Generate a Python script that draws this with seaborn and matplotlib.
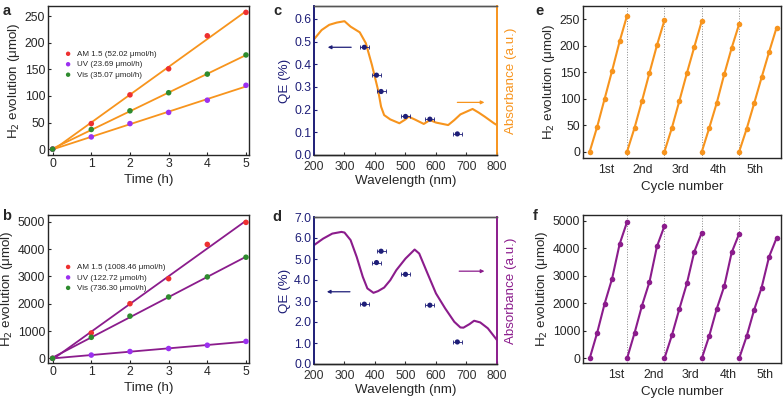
import numpy as np
import pandas as pd
import matplotlib
matplotlib.use('Agg')
import matplotlib.pyplot as plt
import seaborn as sns

sns.set_style('ticks')
plt.rcParams['font.family'] = ['Liberation Sans', 'DejaVu Sans']
plt.rcParams['axes.linewidth'] = 1.0

# --- data ---
time_h = [0, 1, 2, 3, 4, 5]
series_names = ['AM 1.5', 'UV', 'Vis']

a_am15 = [0, 48, 102, 151, 213, 257]
a_uv = [0, 23, 48, 69, 92, 120]
a_vis = [0, 37, 72, 106, 141, 177]
a_labels = ['AM 1.5 (52.02 μmol/h)', 'UV (23.69 μmol/h)', 'Vis (35.07 μmol/h)']

b_am15 = [0, 930, 2000, 2915, 4170, 4975]
b_uv = [0, 120, 250, 360, 480, 620]
b_vis = [0, 770, 1545, 2245, 2980, 3700]
b_labels = ['AM 1.5 (1008.46 μmol/h)', 'UV (122.72 μmol/h)', 'Vis (736.30 μmol/h)']

qe_wl = [365, 405, 420, 500, 580, 670]
qe_c = [0.475, 0.352, 0.280, 0.170, 0.158, 0.093]
qe_d = [2.85, 4.83, 5.37, 4.27, 2.80, 1.05]
qe_wl_err = 15

abs_wl_c = [200, 225, 250, 275, 300, 320, 350, 370, 390, 410, 420, 430, 450, 480, 500,
            510, 530, 560, 580, 600, 640, 660, 680, 700, 720, 740, 760, 790, 800]
abs_c = [0.510, 0.551, 0.574, 0.584, 0.590, 0.566, 0.541, 0.493, 0.397, 0.287, 0.213, 0.176,
         0.157, 0.140, 0.157, 0.169, 0.157, 0.137, 0.154, 0.143, 0.132, 0.154, 0.179, 0.191,
         0.203, 0.187, 0.169, 0.140, 0.132]

abs_wl_d = [200, 230, 260, 290, 300, 320, 340, 360, 375, 395, 410, 430, 450, 470, 500, 530,
            545, 570, 600, 630, 660, 680, 690, 710, 725, 745, 770, 800]
abs_d = [5.66, 5.97, 6.21, 6.29, 6.26, 5.90, 5.10, 4.15, 3.60, 3.39, 3.47, 3.64, 3.99, 4.47,
         5.02, 5.45, 5.26, 4.39, 3.36, 2.65, 2.01, 1.74, 1.73, 1.90, 2.06, 1.98, 1.70, 1.14]

cycle_labels = ['1st', '2nd', '3rd', '4th', '5th']
e_cycles = [[0, 47, 100, 153, 208, 257],
            [0, 45, 96, 149, 201, 248],
            [0, 45, 96, 148, 198, 247],
            [0, 45, 92, 146, 196, 241],
            [0, 43, 91, 140, 188, 234]]
f_cycles = [[0, 930, 1990, 2900, 4150, 4960],
            [0, 920, 1920, 2780, 4070, 4810],
            [0, 840, 1800, 2720, 3880, 4570],
            [0, 820, 1800, 2620, 3850, 4530],
            [0, 800, 1760, 2570, 3690, 4370]]

# --- style ---
ORANGE = '#F7941D'
PURPLE = '#8B1C8C'
NAVY = '#1E1E78'
pt_colors = ['#EE3030', '#9B30F0', '#2E8B2E']
TICK = 8.8
LAB = 9.6

fig = plt.figure(figsize=(7.84, 4.0), dpi=100)


def style_ax(ax):
    ax.tick_params(direction='in', length=2.5, width=0.8, labelsize=TICK, pad=2)


def rate_panel(rect, vals, labels, line_color, ylim, yticks, leg_y):
    ax = fig.add_axes(rect)
    for v, lab, c in zip(vals, labels, pt_colors):
        sns.regplot(x=np.array(time_h, float), y=np.array(v, float), ax=ax, scatter=False,
                    ci=None, truncate=True, color=line_color, line_kws={'lw': 1.3})
        sns.scatterplot(x=time_h, y=v, ax=ax, color=c, s=16, edgecolor='none', label=lab, zorder=3)
    ax.set_xlim(-0.12, 5.08)
    ax.set_ylim(*ylim)
    ax.set_xticks(range(6))
    ax.set_yticks(yticks)
    ax.set_xlabel('Time (h)', fontsize=LAB, labelpad=3)
    ax.set_ylabel('H$_2$ evolution (μmol)', fontsize=LAB, labelpad=2)
    style_ax(ax)
    ax.legend(loc='upper left', bbox_to_anchor=(0.04, leg_y), frameon=False, fontsize=5.8,
              handletextpad=0.1, labelspacing=0.35, markerscale=0.8, borderpad=0)
    return ax


rate_panel([0.0612, 0.6125, 0.2565, 0.3725], [a_am15, a_uv, a_vis], a_labels, ORANGE,
           (-11, 269), [0, 50, 100, 150, 200, 250], 0.73)
rate_panel([0.0612, 0.0925, 0.2565, 0.37], [b_am15, b_uv, b_vis], b_labels, PURPLE,
           (-170, 5245), [0, 1000, 2000, 3000, 4000, 5000], 0.70)


def qe_panel(rect, qe, absorb_x, absorb_y, color, ylim, yticks, fmt, larrow, rarrow):
    ax = fig.add_axes(rect)
    ax2 = ax.twinx()
    sns.lineplot(x=absorb_x, y=absorb_y, ax=ax2, color=color, lw=1.5)
    ax2.set_ylim(*ylim)
    ax2.set_yticks([])
    ax2.set_ylabel('Absorbance (a.u.)', fontsize=LAB, color=color, labelpad=6)
    ax.errorbar(qe_wl, qe, xerr=qe_wl_err, fmt='none', ecolor=NAVY, elinewidth=0.6,
                capsize=1.5, capthick=0.6)
    sns.scatterplot(x=qe_wl, y=qe, ax=ax, color=NAVY, s=14, edgecolor='none', zorder=3)
    ax.set_zorder(ax2.get_zorder() + 1)
    ax.patch.set_visible(False)
    ax.set_xlim(200, 800)
    ax.set_ylim(*ylim)
    ax.set_xticks([200, 300, 400, 500, 600, 700, 800])
    ax.set_yticks(yticks)
    ax.set_yticklabels([fmt.format(t) for t in yticks], color=NAVY)
    ax.set_xlabel('Wavelength (nm)', fontsize=LAB, labelpad=2)
    ax.set_ylabel('QE (%)', fontsize=LAB, color=NAVY, labelpad=2)
    style_ax(ax)
    ax.tick_params(axis='y', colors=NAVY)
    ax.tick_params(axis='x', colors='#333333', pad=4)
    for a in (ax, ax2):
        a.spines['left'].set_color(NAVY)
        a.spines['right'].set_color(color)
        a.spines['top'].set_color('#555555')
        a.spines['left'].set_linewidth(1.2)
        a.spines['right'].set_linewidth(1.2)
    ax.annotate('', xy=(larrow[1], larrow[2]), xytext=(larrow[0], larrow[2]),
                arrowprops=dict(arrowstyle='-|>', color=NAVY, lw=0.9, mutation_scale=5))
    ax.annotate('', xy=(rarrow[1], rarrow[2]), xytext=(rarrow[0], rarrow[2]),
                arrowprops=dict(arrowstyle='-|>', color=color, lw=0.9, mutation_scale=5))
    return ax


qe_panel([0.4005, 0.6125, 0.2334, 0.3725], qe_c, abs_wl_c, abs_c, ORANGE, (0, 0.657),
         [0.0, 0.1, 0.2, 0.3, 0.4, 0.5, 0.6], '{:.1f}', (331, 236, 0.475), (661, 768, 0.232))
qe_panel([0.4005, 0.09, 0.2334, 0.3675], qe_d, abs_wl_d, abs_d, PURPLE, (0, 7.0),
         [0, 1, 2, 3, 4, 5, 6, 7], '{:.1f}', (327, 233, 3.44), (667, 768, 4.42))


def cycle_panel(rect, cycles, color, ylim, yticks, label_off):
    rows = []
    for k, vals in enumerate(cycles):
        for t, v in zip(time_h, vals):
            rows.append({'cycle': cycle_labels[k], 't': 5 * k + t, 'h2': v})
    df = pd.DataFrame(rows)
    ax = fig.add_axes(rect)
    sns.lineplot(data=df, x='t', y='h2', units='cycle', estimator=None, ax=ax, color=color,
                 lw=1.5, marker='o', markersize=4, markeredgewidth=0)
    for k in range(1, 5):
        ax.axvline(5 * k, color='#888888', ls=':', lw=0.7, zorder=0)
    ax.set_xlim(-0.9, 25.6)
    ax.set_ylim(*ylim)
    ax.set_yticks(yticks)
    ax.set_xticks([5 * k + label_off for k in range(5)])
    ax.set_xticklabels(cycle_labels)
    ax.set_xlabel('Cycle number', fontsize=LAB, labelpad=4)
    ax.set_ylabel('H$_2$ evolution (μmol)', fontsize=LAB, labelpad=2)
    style_ax(ax)
    ax.tick_params(axis='x', length=0, pad=4)
    return ax


cycle_panel([0.7436, 0.605, 0.2526, 0.38], e_cycles, ORANGE, (-12, 275),
            [0, 50, 100, 150, 200, 250], 2.15)
cycle_panel([0.7436, 0.0925, 0.2526, 0.37], f_cycles, PURPLE, (-170, 5210),
            [0, 1000, 2000, 3000, 4000, 5000], 3.5)

for letter, x, y in [('a', 0.003, 0.99), ('b', 0.003, 0.478), ('c', 0.349, 0.99),
                     ('d', 0.347, 0.475), ('e', 0.683, 0.99), ('f', 0.68, 0.478)]:
    fig.text(x, y, letter, fontsize=10.5, fontweight='bold', va='top', ha='left')

fig.savefig('out.png', dpi=100)
